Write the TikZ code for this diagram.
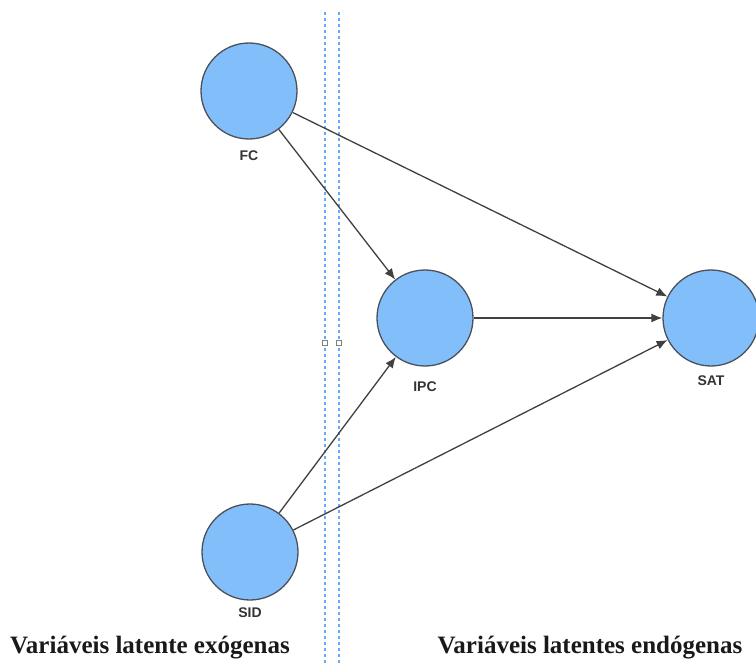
\documentclass[tikz,border=0pt]{standalone}
\usepackage{fontspec}
\setmainfont{Liberation Serif}
\setsansfont{Liberation Sans}
\usetikzlibrary{arrows.meta,positioning}

\definecolor{latfill}{RGB}{130,190,250}
\definecolor{latedge}{RGB}{75,80,90}
\definecolor{guideblue}{RGB}{100,170,250}

\tikzset{
  latent/.style = {circle, draw=latedge, fill=latfill, line width=1.3pt, minimum size=96pt, inner sep=0pt},
  lbl/.style = {font=\sffamily\bfseries\fontsize{14}{14}\selectfont, text=black!80},
  path/.style = {-{Latex[length=11pt,width=9pt]}, draw=black!75, line width=1.3pt},
  guideline/.style = {draw=guideblue, dash pattern=on 3pt off 3pt, line width=1.4pt},
  handle/.style = {rectangle, draw=gray, fill=white, minimum size=5pt, inner sep=0pt, line width=1pt},
  title/.style = {font=\bfseries\fontsize{25}{25}\selectfont, text=black!90}
}

\begin{document}
\begin{tikzpicture}[x=1pt, y=-1pt]
  \useasboundingbox (0,0) rectangle (756,666);

  % guide lines between the two groups
  \coordinate (g1t) at (325,12);  \coordinate (g1b) at (325,666);
  \coordinate (g2t) at (339,12);  \coordinate (g2b) at (339,666);
  \draw[guideline] (g1t) -- (g1b);
  \draw[guideline] (g2t) -- (g2b);
  \node[handle] (h1) at (325,343) {};
  \node[handle] (h2) at (339,343) {};

  % latent variables
  \node[latent] (FC)  at (249,91)  {};
  \node[latent] (IPC) at (425,318) {};
  \node[latent] (SAT) at (711,318) {};
  \node[latent] (SID) at (250,552) {};

  \node[lbl, below=8pt of FC]  (FClbl)  {FC};
  \node[lbl, below=12pt of IPC] (IPClbl) {IPC};
  \node[lbl, below=6pt of SAT]  (SATlbl) {SAT};
  \node[lbl, below=4pt of SID]  (SIDlbl) {SID};

  % paths
  \draw[path] (FC)  to (IPC);
  \draw[path] (FC)  to (SAT);
  \draw[path] (IPC) to (SAT);
  \draw[path] (SID) to (IPC);
  \draw[path] (SID) to (SAT);

  % group titles
  \node[title] (exo)  at (150,648) {Variáveis latente exógenas};
  \node[title] (endo) at (590,648) {Variáveis latentes endógenas};
\end{tikzpicture}
\end{document}
